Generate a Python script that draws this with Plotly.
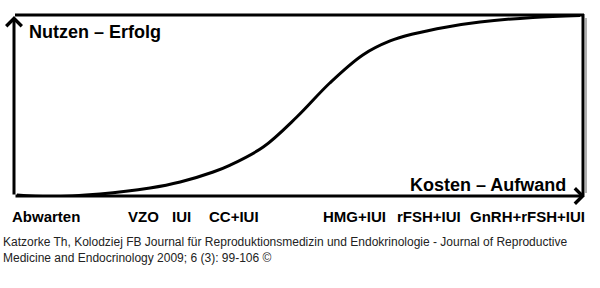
import plotly.graph_objects as go

# Curve: cost/effort (x, 0-100) vs. benefit/success (y, 0-100)
cost = [0.5, 6.3, 15.1, 23.9, 29.2, 35.0, 38.0, 43.8, 49.7, 55.5, 61.3, 66.1, 70.1, 76.1, 81.9, 91.2, 99.5]
benefit = [0.6, -0.3, 1.1, 4.4, 7.7, 13.2, 17.0, 26.9, 43.4, 62.1, 77.5, 85.2, 89.0, 92.9, 95.6, 98.1, 99.2]

# Treatment labels along the cost axis
treatments = ["Abwarten", "VZO", "IUI", "CC+IUI", "HMG+IUI", "rFSH+IUI", "GnRH+rFSH+IUI"]
treatment_pos = [5.6, 22.7, 29.5, 38.7, 59.9, 72.9, 90.2]

y_title = "Nutzen – Erfolg"
x_title = "Kosten – Aufwand"
citation = ("Katzorke Th, Kolodziej FB Journal für Reproduktionsmedizin und Endokrinologie - Journal of Reproductive"
            "<br>Medicine and Endocrinology 2009; 6 (3): 99-106 ©")

W, H = 600, 288
L, R, T, B = 14, 17, 14, 92
PW, PH = W - L - R, H - T - B

def px(x):
    return (x - L) / PW

def py(y):
    return (H - B - y) / PH

FONT = "Liberation Sans, Arial, sans-serif"

fig = go.Figure()
fig.add_trace(go.Scatter(x=cost, y=benefit, mode="lines", line=dict(color="black", width=3, shape="spline", smoothing=1.0),
                         cliponaxis=False, hoverinfo="skip", showlegend=False))

shapes = [
    # shadow on right edge
    dict(type="line", xref="paper", yref="paper", x0=px(586), x1=px(586), y0=py(18), y1=py(193),
         line=dict(color="#b0b0b0", width=2)),
    # top border
    dict(type="line", xref="paper", yref="paper", x0=px(15), x1=px(584), y0=py(15), y1=py(15),
         line=dict(color="black", width=3)),
    # right border
    dict(type="line", xref="paper", yref="paper", x0=px(583), x1=px(583), y0=py(14), y1=py(195),
         line=dict(color="black", width=3)),
]

annotations = [
    # y axis arrow
    dict(xref="paper", yref="paper", x=px(14), y=py(16), ax=0, ay=180, axref="pixel", ayref="pixel",
         text="", showarrow=True, arrowhead=4, arrowwidth=3, arrowsize=1, arrowcolor="black", standoff=0),
    # x axis arrow
    dict(xref="paper", yref="paper", x=px(585), y=py(196), ax=-571, ay=0, axref="pixel", ayref="pixel",
         text="", showarrow=True, arrowhead=4, arrowwidth=3, arrowsize=1, arrowcolor="black", standoff=0),
    dict(xref="paper", yref="paper", x=px(27), y=py(32), xanchor="left", yanchor="middle", showarrow=False,
         text=f"<b>{y_title}</b>", font=dict(family=FONT, size=18, color="black")),
    dict(xref="paper", yref="paper", x=px(568), y=py(185), xanchor="right", yanchor="middle", showarrow=False,
         text=f"<b>{x_title}</b>", font=dict(family=FONT, size=18, color="black")),
    dict(xref="paper", yref="paper", x=px(1), y=py(233), xanchor="left", yanchor="top", align="left", showarrow=False,
         text=citation, font=dict(family=FONT, size=12, color="#222222")),
]
for lab, pos in zip(treatments, treatment_pos):
    annotations.append(dict(xref="x", yref="paper", x=pos, y=py(216), xanchor="center", yanchor="middle",
                            showarrow=False, text=f"<b>{lab}</b>",
                            font=dict(family=FONT, size=15, color="black")))

fig.update_layout(
    width=W, height=H, margin=dict(l=L, r=R, t=T, b=B),
    paper_bgcolor="white", plot_bgcolor="white",
    xaxis=dict(range=[0, 100], visible=False, fixedrange=True),
    yaxis=dict(range=[0, 100], visible=False, fixedrange=True),
    shapes=shapes, annotations=annotations,
)
fig.write_html("out.html")
